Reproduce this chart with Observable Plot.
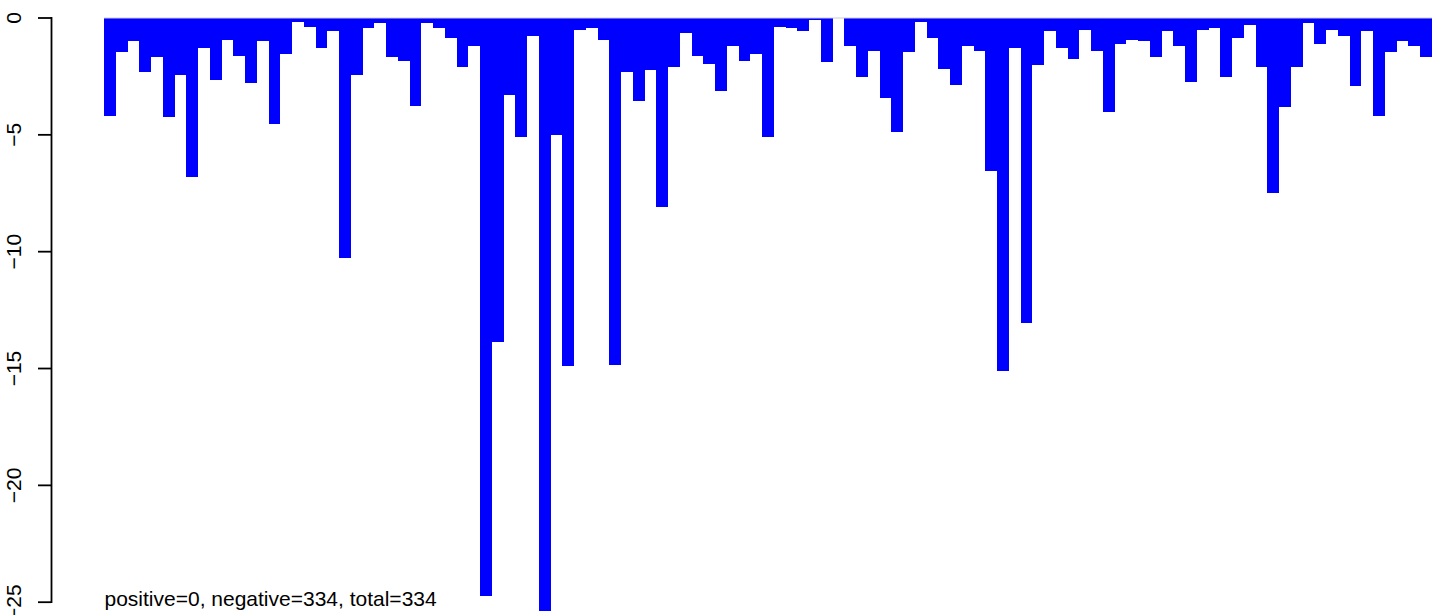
<!DOCTYPE html>
<html><head><meta charset="utf-8">
<script src="https://cdn.jsdelivr.net/npm/d3@7"></script>
<script src="https://cdn.jsdelivr.net/npm/@observablehq/plot@0.6"></script>
<style>body{margin:0;background:#fff} svg{display:block}</style>
</head><body><div id="chart"></div>
<script>
const barValues = [
  -4.21, -1.49, -1.02, -2.33, -1.69, -4.26, -2.47, -6.81, -1.31, -2.67,
  -0.96, -1.65, -2.79, -1.01, -4.54, -1.55, -0.19, -0.41, -1.29, -0.58,
  -10.29, -2.46, -0.45, -0.24, -1.69, -1.86, -3.79, -0.24, -0.45, -0.88,
  -2.12, -1.22, -24.75, -13.89, -3.32, -5.10, -0.79, -25.4, -5.03, -14.91,
  -0.53, -0.45, -0.96, -14.87, -2.33, -3.57, -2.25, -8.11, -2.12, -0.66,
  -1.65, -1.99, -3.13, -1.22, -1.86, -1.56, -5.10, -0.41, -0.45, -0.58,
  -0.11, -1.90, -0.03, -1.22, -2.55, -1.43, -3.44, -4.90, -1.48, -0.19,
  -0.88, -2.20, -2.89, -1.22, -1.43, -6.55, -15.13, -1.31, -13.07, -2.03,
  -0.58, -1.31, -1.78, -0.53, -1.43, -4.04, -1.13, -0.96, -1.01, -1.69,
  -0.58, -1.22, -2.76, -0.53, -0.45, -2.55, -0.88, -0.32, -2.12, -7.51,
  -3.83, -2.12, -0.24, -1.13, -0.53, -0.79, -2.93, -0.58, -4.21, -1.48,
  -1.01, -1.22, -1.69
];
const barIds = barValues.map((_, i) => i + 1);
const yTicks = [0, -5, -10, -15, -20, -25];
const yTickLabels = ["0", "\u221210", "\u221215", "\u221220", "\u221225"];
const yLabels = ["0", "\u22125", "\u221210", "\u221215", "\u221220", "\u221225"];
const noteText = "positive=0, negative=334, total=334";

const bars = barIds.map((id, i) => ({id, value: barValues[i]}));
const tickRows = yTicks.map((v, i) => ({v, label: yLabels[i]}));

const chart = Plot.plot({
  width: 1433, height: 615,
  marginTop: 17.5, marginBottom: 13.3, marginLeft: 51, marginRight: 1,
  style: {fontFamily: "'Liberation Sans', Arial, sans-serif", fontSize: "21px", background: "#fff", color: "#000"},
  x: {type: "band", domain: barIds, range: [104, 1432], padding: 0, axis: null},
  y: {domain: [-25, 0], axis: null},
  marks: [
    Plot.barY(bars, {x: "id", y1: 0, y2: "value", fill: "#0000ff", shapeRendering: "crispEdges"}),
    Plot.ruleY([0], {stroke: "#cccccc", x1: barIds[0], x2: barIds[barIds.length - 1]}),
    Plot.frame({anchor: "left", stroke: "#000", strokeWidth: 1.8}),
    Plot.axisY({ticks: yTicks, tickSize: 13, tickFormat: () => "", label: null, strokeWidth: 1.8, stroke: "#000"}),
    Plot.text(tickRows, {y: "v", text: "label", frameAnchor: "left", dx: -37, rotate: -90, textAnchor: "middle", fill: "#000", fontSize: 21}),
    Plot.text([noteText], {text: d => d, frameAnchor: "bottom-left", dx: 53, dy: 4, textAnchor: "start", fill: "#000", fontSize: 21})
  ]
});
document.getElementById("chart").appendChild(chart);
</script>
</body></html>
